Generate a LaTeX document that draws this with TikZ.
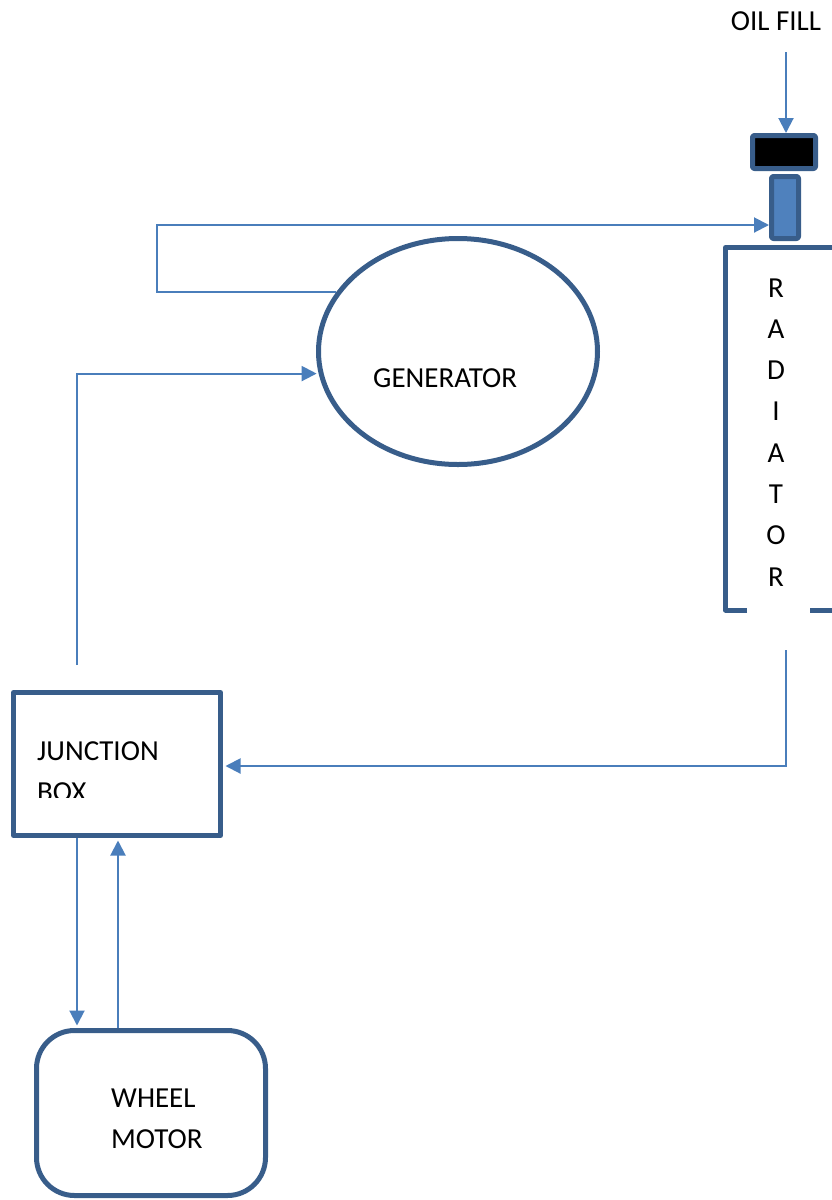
\documentclass[tikz,border=0pt]{standalone}
\usepackage{fontspec}
\setmainfont{Carlito}
\usetikzlibrary{arrows.meta,shapes.geometric}
\definecolor{outl}{HTML}{385D8A}
\definecolor{connc}{HTML}{4A7EBB}
\definecolor{fillb}{HTML}{4F81BD}
\begin{document}
\begin{tikzpicture}[x=1pt,y=-1pt,
  thickbox/.style={draw=outl,line width=5pt,inner sep=0pt,line join=round},
  connector/.style={draw=connc,line width=2pt,-{Triangle[length=15pt,width=15pt]}},
  plainline/.style={draw=connc,line width=2pt},
  lbl/.style={font=\fontsize{29}{35}\selectfont,inner sep=0pt}]
\useasboundingbox (0,0) rectangle (832,1200);

% shapes
\node[thickbox,ellipse,minimum width=279pt,minimum height=226pt] (gen) at (458,351.5) {};
\node[thickbox,rectangle,minimum width=207pt,minimum height=143pt] (jb) at (117,764) {};
\node[thickbox,rectangle,rounded corners=38pt,minimum width=229pt,minimum height=165pt] (motor) at (151,1113) {};
\node[thickbox,rectangle,rounded corners=2pt,fill=black,minimum width=63pt,minimum height=33pt] (cap) at (784,152) {};
\node[thickbox,rectangle,rounded corners=2pt,fill=fillb,minimum width=27pt,minimum height=62pt] (neck) at (785,207.5) {};

% radiator (open at the bottom, running off the right edge)
\draw[outl,line width=5pt,line join=round] (747,610) -- (725.5,610) -- (725.5,247.5) -- (834,247.5);
\draw[outl,line width=5pt] (810,610) -- (834,610);
\coordinate (radout) at (786,650);

% labels
\node[lbl,anchor=base] (oil) at (776,30.5) {OIL FILL};
\node[lbl,anchor=base west] (gentxt) at (373,387) {GENERATOR};
\foreach \t [count=\i from 0] in {R,A,D,I,A,T,O,R}
  \node[lbl,anchor=base] (rad\i) at (776,{297+41.3*\i}) {\t};
\node[lbl,anchor=base west] (jbt1) at (37,760) {JUNCTION};
\begin{scope}
  \clip (0,0) rectangle (832,797);
  \node[lbl,anchor=base west] (jbt2) at (37,801.5) {BOX};
\end{scope}
\node[lbl,anchor=base west] (mt1) at (111,1107) {WHEEL};
\node[lbl,anchor=base west] (mt2) at (111,1148) {MOTOR};

% connectors
\coordinate (oiltop) at (786,52);
\draw[connector] (oiltop) -- (oiltop |- cap.north);

\coordinate (loopx) at (157,225);
\draw[connector] (gen.154.4) -| (loopx) -- (loopx -| neck.west);

\coordinate (jbup) at (77,665);
\draw[connector,shorten >=2pt] (jbup) |- (gen.189.8);

\draw[connector,shorten >=2.5pt] (radout) |- ([yshift=-2pt]jb.east);

\coordinate (xl) at (77,0);
\coordinate (xr) at (118,0);
\draw[connector,shorten >=2.5pt] (jb.south -| xl) -- (motor.north -| xl);
\draw[connector,shorten >=2.5pt] (motor.north -| xr) -- (jb.south -| xr);
\end{tikzpicture}
\end{document}
